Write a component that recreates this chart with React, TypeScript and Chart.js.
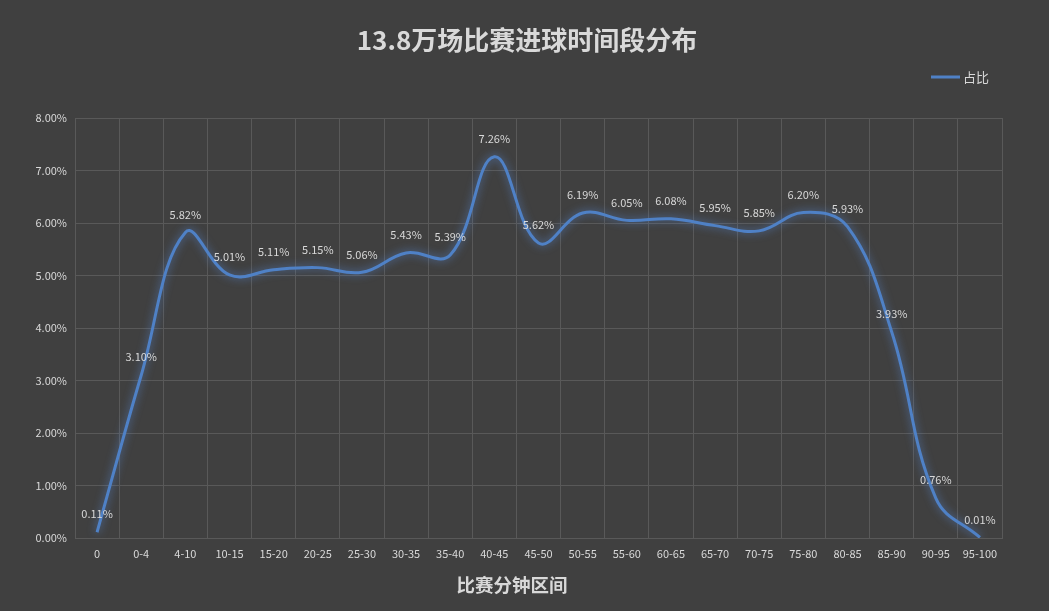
import React, { useEffect, useRef } from "react";
import { Chart, registerables } from "chart.js";

Chart.register(...registerables);

const categories = ["0", "0-4", "4-10", "10-15", "15-20", "20-25", "25-30", "30-35", "35-40", "40-45", "45-50", "50-55", "55-60", "60-65", "65-70", "70-75", "75-80", "80-85", "85-90", "90-95", "95-100"];
const shareValues = [0.11, 3.10, 5.82, 5.01, 5.11, 5.15, 5.06, 5.43, 5.39, 7.26, 5.62, 6.19, 6.05, 6.08, 5.95, 5.85, 6.20, 5.93, 3.93, 0.76, 0.01];
const seriesName = "占比";
const chartTitle = "13.8万场比赛进球时间段分布";
const xAxisTitle = "比赛分钟区间";

const FONT = "'Noto Sans CJK SC', 'DejaVu Sans', sans-serif";
const TEXT = "#d9d9d9";
const GRID = "#595959";
const LINE = "#4f81c6";

export default function App() {
  const ref = useRef<HTMLCanvasElement | null>(null);
  useEffect(() => {
    document.body.style.margin = "0";
    const glow = {
      id: "glow",
      beforeDatasetDraw(chart: any) {
        const ctx = chart.ctx;
        ctx.save();
        ctx.shadowColor = "rgba(90,140,220,0.75)";
        ctx.shadowBlur = 9;
      },
      afterDatasetDraw(chart: any) {
        chart.ctx.restore();
      },
    };
    const labels = {
      id: "labelsAndTitle",
      afterDatasetsDraw(chart: any) {
        const ctx = chart.ctx;
        const meta = chart.getDatasetMeta(0);
        ctx.save();
        ctx.fillStyle = TEXT;
        ctx.font = `11px ${FONT}`;
        ctx.textAlign = "center";
        ctx.textBaseline = "middle";
        meta.data.forEach((pt: any, i: number) => {
          ctx.fillText(shareValues[i].toFixed(2) + "%", pt.x, pt.y - 18);
        });
        ctx.restore();
      },
      afterDraw(chart: any) {
        const ctx = chart.ctx;
        ctx.save();
        ctx.fillStyle = TEXT;
        ctx.font = `bold 26px ${FONT}`;
        ctx.textAlign = "center";
        ctx.textBaseline = "middle";
        ctx.fillText(chartTitle, 527, 40);
        ctx.font = `bold 18.5px ${FONT}`;
        ctx.fillText(xAxisTitle, 512, 585);
        ctx.strokeStyle = LINE;
        ctx.lineWidth = 3;
        ctx.beginPath();
        ctx.moveTo(931, 77);
        ctx.lineTo(960, 77);
        ctx.stroke();
        ctx.font = `13px ${FONT}`;
        ctx.textAlign = "left";
        ctx.fillText(seriesName, 963, 77);
        ctx.restore();
      },
    };
    const chart = new Chart(ref.current as HTMLCanvasElement, {
      type: "line",
      data: {
        labels: categories,
        datasets: [
          {
            label: seriesName,
            data: shareValues,
            borderColor: LINE,
            borderWidth: 3,
            pointRadius: 0,
            tension: 0.4,
            fill: false,
          },
        ],
      },
      options: {
        animation: false,
        responsive: false,
        maintainAspectRatio: false,
        layout: { padding: { top: 118, right: 47, left: 0, bottom: 0 } },
        plugins: {
          legend: { display: false },
          title: { display: false },
          tooltip: { enabled: false },
        },
        scales: {
          x: {
            offset: true,
            grid: { color: GRID, offset: true, drawTicks: false },
            border: { color: GRID },
            ticks: { color: TEXT, font: { family: FONT, size: 11 }, padding: 9, maxRotation: 0, autoSkip: false },
            afterFit(scale: any) {
              scale.height = 73;
            },
          },
          y: {
            min: 0,
            max: 8,
            grid: { color: GRID, drawTicks: false },
            border: { color: GRID },
            ticks: {
              stepSize: 1,
              color: TEXT,
              font: { family: FONT, size: 11 },
              padding: 8,
              callback: (v: any) => Number(v).toFixed(2) + "%",
            },
            afterFit(scale: any) {
              scale.width = 75;
            },
          },
        },
      },
      plugins: [glow, labels],
    });
    return () => chart.destroy();
  }, []);
  return (
    <div style={{ position: "fixed", left: 0, top: 0, width: 1049, height: 611, background: "#404040" }}>
      <canvas ref={ref} width={1049} height={611} style={{ width: 1049, height: 611, display: "block" }} />
    </div>
  );
}
